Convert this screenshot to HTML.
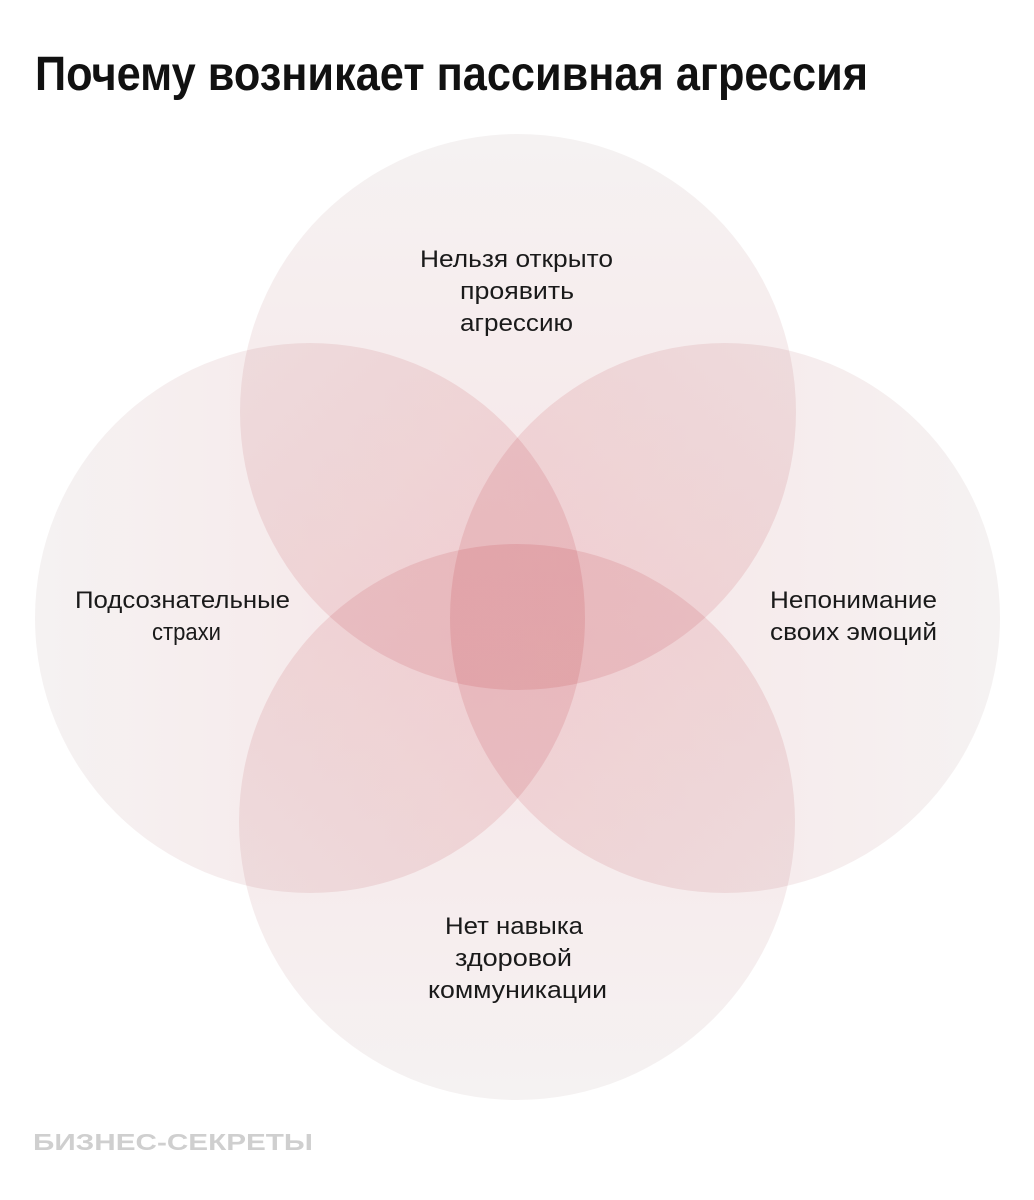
<!DOCTYPE html>
<html><head><meta charset="utf-8"><style>
html,body{margin:0;padding:0;background:#fff;}
svg{display:block;}
</style></head><body>
<svg width="1034" height="1200" viewBox="0 0 1034 1200" xmlns="http://www.w3.org/2000/svg">
<defs>
<linearGradient id="gt" x1="0" y1="0" x2="0" y2="1"><stop offset="0" stop-color="#f5f2f2"/><stop offset="1" stop-color="#f8e3e5"/></linearGradient>
<linearGradient id="gb" x1="0" y1="1" x2="0" y2="0"><stop offset="0" stop-color="#f5f2f2"/><stop offset="1" stop-color="#f8e3e5"/></linearGradient>
<linearGradient id="gl" x1="0" y1="0" x2="1" y2="0"><stop offset="0" stop-color="#f5f2f2"/><stop offset="1" stop-color="#f8e3e5"/></linearGradient>
<linearGradient id="gr" x1="1" y1="0" x2="0" y2="0"><stop offset="0" stop-color="#f5f2f2"/><stop offset="1" stop-color="#f8e3e5"/></linearGradient>
</defs>
<rect width="1034" height="1200" fill="#fff"/>
<g style="isolation:isolate">
<circle cx="518" cy="412" r="278" fill="url(#gt)" style="mix-blend-mode:multiply"/>
<circle cx="310" cy="618" r="275" fill="url(#gl)" style="mix-blend-mode:multiply"/>
<circle cx="725" cy="618" r="275" fill="url(#gr)" style="mix-blend-mode:multiply"/>
<circle cx="517" cy="822" r="278" fill="url(#gb)" style="mix-blend-mode:multiply"/>
</g>
<text x="35" y="90" font-family="Liberation Sans, sans-serif" font-weight="bold" font-size="48" fill="#111" textLength="833" lengthAdjust="spacingAndGlyphs">Почему возникает пассивная агрессия</text>
<g font-family="Liberation Sans, sans-serif" font-size="24" fill="#1a1a1a">
<text x="420" y="267" textLength="193" lengthAdjust="spacingAndGlyphs">Нельзя открыто</text>
<text x="460" y="299" textLength="114" lengthAdjust="spacingAndGlyphs">проявить</text>
<text x="460" y="331" textLength="113" lengthAdjust="spacingAndGlyphs">агрессию</text>
<text x="75" y="608" textLength="215" lengthAdjust="spacingAndGlyphs">Подсознательные</text>
<text x="152" y="640" textLength="69" lengthAdjust="spacingAndGlyphs">страхи</text>
<text x="770" y="608" textLength="167" lengthAdjust="spacingAndGlyphs">Непонимание</text>
<text x="770" y="640" textLength="167" lengthAdjust="spacingAndGlyphs">своих эмоций</text>
<text x="445" y="934" textLength="138" lengthAdjust="spacingAndGlyphs">Нет навыка</text>
<text x="455" y="966" textLength="117" lengthAdjust="spacingAndGlyphs">здоровой</text>
<text x="428" y="998" textLength="179" lengthAdjust="spacingAndGlyphs">коммуникации</text>
</g>
<text x="33" y="1150" font-family="Liberation Sans, sans-serif" font-weight="bold" font-size="23" fill="#cfcfcf" textLength="280" lengthAdjust="spacingAndGlyphs">БИЗНЕС-СЕКРЕТЫ</text>
</svg>
</body></html>
